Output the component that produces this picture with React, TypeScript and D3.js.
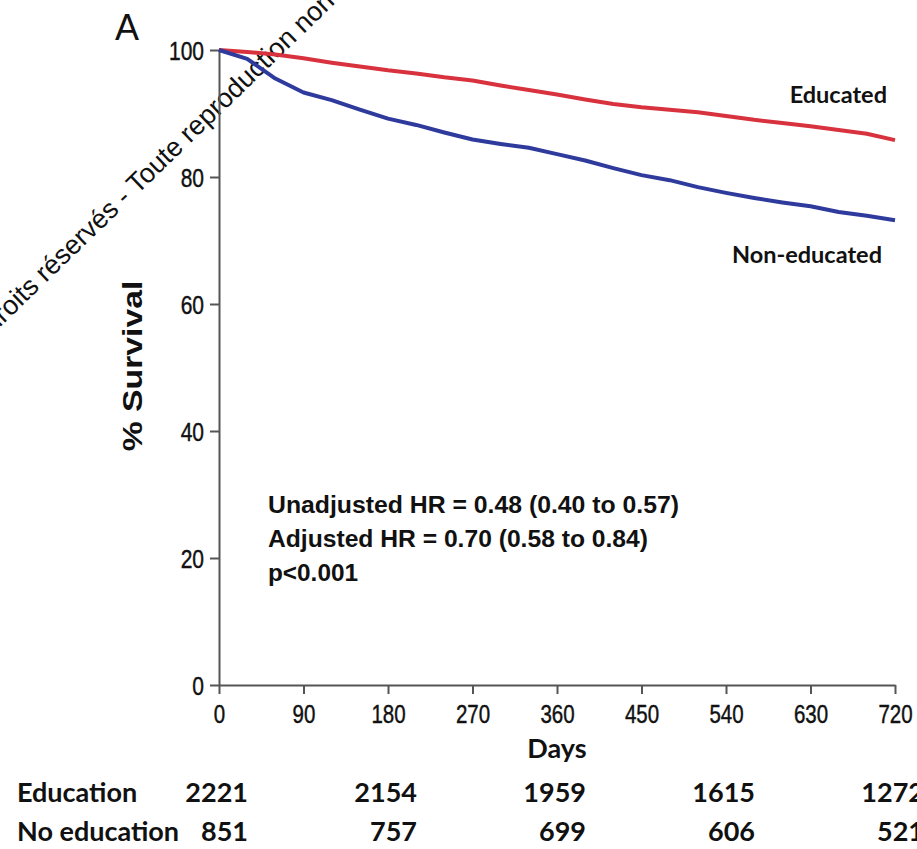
import React, { useEffect, useRef } from "react";
import * as d3 from "d3";

// survival curves (% survival by day)
const days = [0, 30, 60, 90, 120, 150, 180, 210, 240, 270, 300, 330, 360, 390, 420, 450, 480, 510, 540, 570, 600, 630, 660, 690, 720];
const educated = [100, 99.7, 99.3, 98.7, 98.0, 97.4, 96.8, 96.3, 95.7, 95.2, 94.4, 93.7, 93.0, 92.2, 91.5, 91.0, 90.6, 90.2, 89.6, 89.0, 88.5, 88.0, 87.4, 86.8, 85.8];
const nonEducated = [100, 98.6, 95.5, 93.3, 92.1, 90.6, 89.2, 88.2, 87.0, 85.9, 85.2, 84.6, 83.6, 82.6, 81.4, 80.3, 79.5, 78.4, 77.5, 76.7, 76.0, 75.4, 74.5, 73.9, 73.2];

const xTicks = [0, 90, 180, 270, 360, 450, 540, 630, 720];
const yTicks = [0, 20, 40, 60, 80, 100];

// numbers at risk
const riskDays = [0, 180, 360, 540, 720];
const riskEducation = [2221, 2154, 1959, 1615, 1272];
const riskNoEducation = [851, 757, 699, 606, 521];

const annotations = [
  { text: "Unadjusted HR = 0.48 (0.40 to 0.57)", len: 411 },
  { text: "Adjusted HR = 0.70 (0.58 to 0.84)", len: 380 },
  { text: "p<0.001", len: 90 }
];

export default function App() {
  const ref = useRef<SVGSVGElement>(null);

  useEffect(() => {
    const svg = d3.select(ref.current);
    svg.selectAll("*").remove();

    const width = 917;
    const height = 849;
    const margin = { top: 50, left: 219, bottom: 164, right: 22 };

    const x = d3.scaleLinear().domain([0, 720]).range([margin.left, width - margin.right]);
    const y = d3.scaleLinear().domain([0, 100]).range([height - margin.bottom, margin.top]);

    const sans = "'Liberation Sans', Arial, Helvetica, sans-serif";
    const calibri = "Lato, 'Open Sans', sans-serif";

    // watermark
    const wm = svg.append("g").attr("transform", "translate(21,307) rotate(-44)")
      .style("font-family", sans).style("font-size", "27px").attr("fill", "#111");
    wm.append("text").attr("text-anchor", "end").text("Tous dro");
    wm.append("text").attr("text-anchor", "start").text("its réservés - Toute reproduction non autorisée");

    // x axis
    const gx = svg.append("g")
      .attr("transform", `translate(0,${y(0)})`)
      .call(d3.axisBottom(x).tickValues(xTicks).tickSize(9).tickSizeOuter(0).tickFormat(d3.format("d")));
    gx.select(".domain").attr("stroke", "#555").attr("stroke-width", 2);
    gx.selectAll(".tick line").attr("stroke", "#555").attr("stroke-width", 2);
    gx.selectAll(".tick text")
      .attr("y", 30.5).attr("dy", 0)
      .attr("transform", "scale(1,1.25)")
      .attr("fill", "#111").attr("stroke", "#111").attr("stroke-width", 0.35)
      .style("font-family", sans).style("font-size", "20.5px");

    // y axis
    const gy = svg.append("g")
      .attr("transform", `translate(${x(0)},0)`)
      .call(d3.axisLeft(y).tickValues(yTicks).tickSize(9).tickSizeOuter(0).tickFormat(d3.format("d")));
    gy.select(".domain").attr("stroke", "#555").attr("stroke-width", 2);
    gy.selectAll(".tick line").attr("stroke", "#555").attr("stroke-width", 2);
    gy.selectAll(".tick text")
      .attr("x", -15).attr("dy", "0.36em")
      .attr("transform", "scale(1,1.25)")
      .attr("fill", "#111").attr("stroke", "#111").attr("stroke-width", 0.35)
      .style("font-family", sans).style("font-size", "21px");

    // curves
    const line = d3.line<number>()
      .x((_, i) => x(days[i]))
      .y(d => y(d));

    svg.append("path").datum(educated)
      .attr("d", line).attr("fill", "none")
      .attr("stroke", "#d8323e").attr("stroke-width", 4).attr("stroke-linejoin", "round");
    svg.append("path").datum(nonEducated)
      .attr("d", line).attr("fill", "none")
      .attr("stroke", "#2f3b9c").attr("stroke-width", 4).attr("stroke-linejoin", "round");

    // labels
    svg.append("text").attr("x", 115).attr("y", 40)
      .style("font-family", sans).style("font-size", "36px").attr("fill", "#111").text("A");

    svg.append("text")
      .attr("transform", "translate(142,366) rotate(-90) scale(1.25,1)")
      .attr("text-anchor", "middle")
      .style("font-family", sans).style("font-size", "27px").style("font-weight", "bold")
      .attr("fill", "#111").text("% Survival");

    annotations.forEach((a, i) => {
      svg.append("text")
        .attr("transform", `translate(268,${513 + i * 34}) scale(1,1.22)`)
        .attr("textLength", a.len).attr("lengthAdjust", "spacingAndGlyphs")
        .style("font-family", sans).style("font-size", "20px").style("font-weight", "bold")
        .attr("fill", "#111").text(a.text);
    });

    svg.append("text").attr("x", 887).attr("y", 103).attr("text-anchor", "end")
      .style("font-family", calibri).style("font-size", "23.5px").style("font-weight", 700)
      .attr("fill", "#111").text("Educated");
    svg.append("text").attr("x", 882).attr("y", 263).attr("text-anchor", "end")
      .style("font-family", calibri).style("font-size", "23.5px").style("font-weight", 700)
      .attr("fill", "#111").text("Non-educated");

    svg.append("text").attr("x", 557).attr("y", 758).attr("text-anchor", "middle")
      .style("font-family", calibri).style("font-size", "27px").style("font-weight", 700)
      .attr("fill", "#111").text("Days");

    // numbers at risk table
    const rows = [
      { name: "Education", values: riskEducation, y: 802 },
      { name: "No education", values: riskNoEducation, y: 841 }
    ];
    rows.forEach(r => {
      svg.append("text").attr("x", 17).attr("y", r.y)
        .style("font-family", calibri).style("font-size", "27px").style("font-weight", 700)
        .attr("fill", "#111").text(r.name);
      svg.selectAll(null).data(r.values).enter().append("text")
        .attr("x", (_, i) => x(riskDays[i]) + 29)
        .attr("y", r.y)
        .attr("text-anchor", "end")
        .style("font-family", calibri).style("font-size", "27px").style("font-weight", 700)
        .attr("fill", "#111").text(d => d);
    });
  }, []);

  return (
    <svg
      ref={ref}
      width={917}
      height={849}
      style={{ position: "absolute", left: 0, top: 0, background: "#fff" }}
    />
  );
}
